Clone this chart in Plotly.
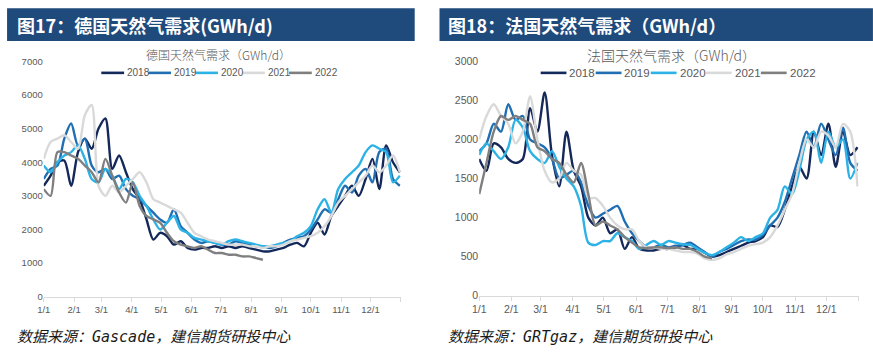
import plotly.graph_objects as go

# ---------------- data ----------------
years = ["2018", "2019", "2020", "2021", "2022"]
colors = ["#14285A", "#1F6FB2", "#2DB2E6", "#D9D9D9", "#7F7F7F"]

days = list(range(0, 365, 7))          # weekly points, day-of-year
days_2022 = days[:33]

month_ticks = [0, 31, 59, 90, 120, 151, 181, 212, 243, 273, 304, 334]
month_labels = ["1/1", "2/1", "3/1", "4/1", "5/1", "6/1", "7/1", "8/1", "9/1", "10/1", "11/1", "12/1"]

de_2018 = [3300, 3600, 4000, 4050, 3300, 4300, 4700, 4400, 5000, 5300,
           3800, 4200, 3700, 3200, 2900, 2300, 1700, 1900, 1800, 1550,
           1650, 1450, 1400, 1450, 1450, 1500, 1450, 1500, 1450, 1500,
           1450, 1400, 1350, 1350, 1400, 1450, 1550, 1600, 1500, 1900,
           2200, 1850, 2400, 2700, 3000, 3300, 3000, 3500, 4100, 3200,
           4500, 4000, 3700]
de_2019 = [3500, 3800, 3900, 4700, 5150, 4500, 4700, 3900, 3700, 3800,
           3500, 3600, 3200, 3000, 2900, 2700, 2500, 2300, 2200, 2600,
           2100, 1900, 1700, 1600, 1650, 1600, 1550, 1550, 1650, 1600,
           1550, 1500, 1500, 1450, 1500, 1600, 1700, 1750, 1800, 2000,
           2300, 2600, 2500, 2900, 3300, 3100, 3600, 3800, 3400, 4300,
           4400, 3500, 3300]
de_2020 = [3900, 3700, 4000, 4200, 4300, 4500, 4100, 3500, 3400, 3800,
           3600, 3200, 3500, 3400, 3000, 2700, 2300, 2000, 2200, 2400,
           2000, 1900, 1750, 1700, 1650, 1600, 1550, 1650, 1700, 1650,
           1600, 1550, 1500, 1500, 1550, 1600, 1650, 1800, 1900, 2100,
           2600, 2900, 2500, 3200, 3500, 3700, 3900, 4300, 4500, 4400,
           4300, 3400, 3600]
de_2021 = [4100, 4600, 4700, 4800, 4600, 4400, 5400, 5700, 3300, 3000,
           3300, 3100, 3300, 3500, 3700, 3400, 2900, 2800, 2700, 2600,
           2500, 2200, 1900, 1800, 1700, 1650, 1600, 1550, 1550, 1550,
           1500, 1500, 1450, 1500, 1500, 1550, 1650, 1700, 1750, 1800,
           1900, 2100, 2400, 2800, 3000, 3200, 3400, 3600, 3900, 3700,
           3900, 4200, 3700]
de_2022 = [3200, 3000, 4300, 4300, 4200, 4100, 3900, 3700, 3400, 4100,
           3600, 3100, 2800, 3400, 2700, 2400, 2300, 2200, 1900, 1650,
           1550, 1500, 1450, 1500, 1400, 1300, 1300, 1250, 1250, 1200,
           1200, 1150, 1100]

fr_2018 = [1750, 1600, 1950, 1900, 1750, 1700, 1750, 2400, 2100, 2600,
           1800, 1400, 2100, 1600, 1400, 1000, 900, 1000, 800, 850,
           600, 750, 600, 580, 580, 600, 600, 620, 650, 600,
           600, 550, 500, 520, 560, 600, 640, 680, 700, 750,
           900, 880, 1100, 1400, 1650, 1500, 2100, 1800, 2200, 1650,
           2100, 1800, 1900]
fr_2019 = [1850, 1950, 2200, 2100, 2450, 2250, 2300, 2000, 1950, 1900,
           1750, 1500, 1550, 1600, 1450, 1150, 1000, 1050, 1100, 1150,
           950, 800, 700, 620, 620, 650, 620, 640, 650, 680,
           620, 560, 500, 560, 600, 650, 700, 720, 720, 780,
           900, 1000, 1200, 1500, 1800, 2100, 1900, 2200, 2000, 1800,
           2150, 1700, 1600]
fr_2020 = [1800, 1950, 1850, 1750, 1900, 2250, 2150, 1850, 1750, 1700,
           1850, 1650, 1500, 1400, 1150, 680, 650, 700, 700, 800,
           750, 700, 600, 650, 700, 650, 700, 680, 660, 650,
           600, 550, 520, 560, 620, 680, 750, 700, 750, 800,
           1000, 1100, 1400, 1300, 1600, 2000, 2100, 1700, 2100, 1900,
           2000, 1500, 1700]
fr_2021 = [2000, 2300, 2450, 2300, 2200, 1950, 2100, 2550, 2000, 1600,
           1450, 1500, 1700, 1600, 1550, 1250, 1250, 1150, 1000, 900,
           850, 850, 700, 620, 620, 600, 600, 580, 560, 560,
           540, 480, 460, 480, 530, 560, 600, 640, 660, 680,
           750, 900, 1100, 1300, 1700, 2000, 1900, 2100, 2050, 1900,
           2200, 2100, 1400]
fr_2022 = [1300, 1700, 2100, 2300, 2250, 2300, 2250, 2200, 1900, 1850,
           1750, 1700, 1550, 1450, 1700, 1300, 900, 950, 900, 850,
           750, 680, 620, 610, 620, 620, 610, 620, 600, 600,
           560, 500, 480]

de_series = [de_2018, de_2019, de_2020, de_2021, de_2022]
fr_series = [fr_2018, fr_2019, fr_2020, fr_2021, fr_2022]

header_left = "图17：德国天然气需求(GWh/d)"
header_right = "图18：法国天然气需求（GWh/d）"
title_left = "德国天然气需求（GWh/d）"
title_right = "法国天然气需求（GWh/d）"
source_left = "数据来源：Gascade，建信期货研投中心"
source_right = "数据来源：GRTgaz，建信期货研投中心"

# ---------------- figure ----------------
# The page keeps the browser's default 8px body margin, so the figure is
# 16px smaller than the window; layout positions are given in window pixels
# and converted here.  (If the post-script can drop the body margin, the
# figure is grown to the full window with 8px plot margins: same geometry.)
PAGE_W, PAGE_H, OFF = 873, 359, 8
W, H = PAGE_W - 2 * OFF, PAGE_H - 2 * OFF
def px(x):
    return (x - OFF) / W
def py(y):
    return (H - (y - OFF)) / H

fig = go.Figure()
for i, (yr, col) in enumerate(zip(years, colors)):
    xs = days_2022 if yr == "2022" else days
    fig.add_trace(go.Scatter(x=xs, y=de_series[i], mode="lines", name=yr,
                             line=dict(color=col, width=2.4, shape="spline", smoothing=0.8),
                             xaxis="x", yaxis="y", showlegend=False))
for i, (yr, col) in enumerate(zip(years, colors)):
    xs = days_2022 if yr == "2022" else days
    fig.add_trace(go.Scatter(x=xs, y=fr_series[i], mode="lines", name=yr,
                             line=dict(color=col, width=2.4, shape="spline", smoothing=0.8),
                             xaxis="x2", yaxis="y2", showlegend=False))

axis_font_l = dict(family="Liberation Sans, Arial", size=9.5, color="#595959")
axis_font_r = dict(family="Liberation Sans, Arial", size=10.5, color="#595959")

def xaxis_cfg(domain, font, anchor):
    return dict(domain=domain, range=[0, 365], anchor=anchor,
                tickmode="array", tickvals=month_ticks + [365], ticktext=month_labels + [""],
                showline=True, linecolor="#D9D9D9", linewidth=1,
                ticks="outside", ticklen=4, tickcolor="#D9D9D9",
                showgrid=False, zeroline=False, tickfont=font, fixedrange=True)

def yaxis_cfg(domain, rng, dtick, font, anchor):
    return dict(domain=domain, range=rng, anchor=anchor, dtick=dtick, tick0=0,
                showline=False, showgrid=False, zeroline=False, ticks="",
                tickfont=font, fixedrange=True)

annotations = []
shapes = []

# header bars
shapes.append(dict(type="rect", xref="paper", yref="paper", x0=px(0), x1=px(411),
                   y0=py(36), y1=py(2), fillcolor="#1F4A7C", line=dict(width=0), layer="below"))
shapes.append(dict(type="rect", xref="paper", yref="paper", x0=px(436), x1=px(873),
                   y0=py(36), y1=py(2), fillcolor="#1F4A7C", line=dict(width=0), layer="below"))
hfont = dict(family="Noto Sans CJK SC", size=18, color="white", weight=700)
annotations.append(dict(text=header_left, xref="paper", yref="paper", x=px(8), y=py(19),
                        xanchor="left", yanchor="middle", showarrow=False, font=hfont))
annotations.append(dict(text=header_right, xref="paper", yref="paper", x=px(443), y=py(19),
                        xanchor="left", yanchor="middle", showarrow=False, font=hfont))

# chart titles
annotations.append(dict(text=title_left, xref="paper", yref="paper", x=px(213), y=py(50),
                        xanchor="center", yanchor="middle", showarrow=False,
                        font=dict(family="Noto Sans CJK SC", size=12, color="#595959", weight=300)))
annotations.append(dict(text=title_right, xref="paper", yref="paper", x=px(670), y=py(50),
                        xanchor="center", yanchor="middle", showarrow=False,
                        font=dict(family="Noto Sans CJK SC", size=14, color="#595959", weight=300)))

# custom legends
def add_legend(x_start, step, line_len, y, fsize):
    for i, (yr, col) in enumerate(zip(years, colors)):
        x0 = x_start + i * step
        shapes.append(dict(type="line", xref="paper", yref="paper",
                           x0=px(x0), x1=px(x0 + line_len), y0=py(y), y1=py(y),
                           line=dict(color=col, width=2.6)))
        annotations.append(dict(text=yr, xref="paper", yref="paper", x=px(x0 + line_len + 1), y=py(y),
                                xanchor="left", yanchor="middle", showarrow=False,
                                font=dict(family="Liberation Sans, Arial", size=fsize, color="#595959")))

add_legend(95, 47.3, 23, 69, 10)
add_legend(538, 55.5, 26, 69, 11.5)

# sources
sfont = dict(family="DejaVu Sans Mono, Noto Sans CJK SC", size=15, color="#1A1A1A", style="italic")
annotations.append(dict(text=source_left, xref="paper", yref="paper", x=px(8), y=py(343),
                        xanchor="left", yanchor="middle", showarrow=False, font=sfont))
annotations.append(dict(text=source_right, xref="paper", yref="paper", x=px(443), y=py(343),
                        xanchor="left", yanchor="middle", showarrow=False, font=sfont))

fig.update_layout(
    width=W, height=H, margin=dict(l=0, r=0, t=0, b=0),
    paper_bgcolor="white", plot_bgcolor="white",
    xaxis=xaxis_cfg([px(37), px(397)], axis_font_l, "y"),
    yaxis=yaxis_cfg([py(301), py(57)], [0, 7000], 1000, axis_font_l, "x"),
    xaxis2=xaxis_cfg([px(476), px(858.5)], axis_font_r, "y2"),
    yaxis2=yaxis_cfg([py(300), py(57)], [0, 3000], 500, axis_font_r, "x2"),
    annotations=annotations, shapes=shapes,
    showlegend=False,
)

grow = (
    "var gd=document.getElementById('{plot_id}');"
    "document.body.style.margin='0';"
    "gd.style.width='%dpx';gd.style.height='%dpx';"
    "Plotly.relayout(gd,{width:%d,height:%d,'margin.l':%d,'margin.r':%d,'margin.t':%d,'margin.b':%d});"
    % (PAGE_W, PAGE_H, PAGE_W, PAGE_H, OFF, OFF, OFF, OFF)
)

fig.write_html("out.html", config={"displayModeBar": False}, post_script=grow)
